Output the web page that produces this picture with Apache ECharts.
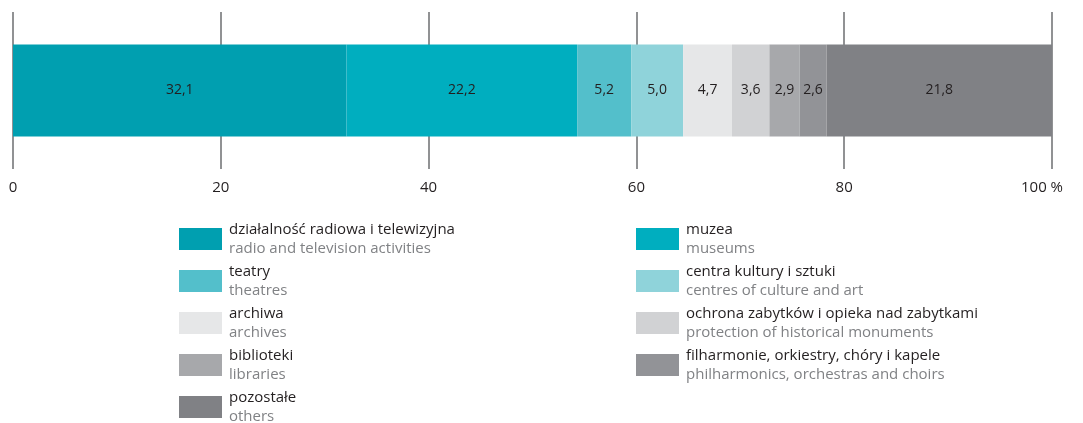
<!DOCTYPE html>
<html>
<head>
<meta charset="utf-8">
<script src="https://cdn.jsdelivr.net/npm/echarts@6/dist/echarts.min.js"></script>
<style>
  html, body { margin: 0; padding: 0; background: #fff; }
  #chart { width: 1083px; height: 423px; }
</style>
</head>
<body>
<div id="chart"></div>
<script>
// udział w wydatkach, %
const namesPl = [
  'działalność radiowa i telewizyjna', 'muzea', 'teatry', 'centra kultury i sztuki',
  'archiwa', 'ochrona zabytków i opieka nad zabytkami', 'biblioteki',
  'filharmonie, orkiestry, chóry i kapele', 'pozostałe'
]
const namesEn = [
  'radio and television activities', 'museums', 'theatres', 'centres of culture and art',
  'archives', 'protection of historical monuments', 'libraries',
  'philharmonics, orchestras and choirs', 'others'
]
const values = [32.1, 22.2, 5.2, 5.0, 4.7, 3.6, 2.9, 2.6, 21.8]
const colors = ['#009fb0', '#00aebf', '#53bfcb', '#8fd3da', '#e6e7e8', '#d1d2d4', '#a7a8ab', '#929397', '#808185']
const leftLegend = [0, 2, 4, 6, 8]
const rightLegend = [1, 3, 5, 7]

const font = 'Open Sans'
const enOf = {}
namesPl.forEach((n, i) => { enOf[n] = namesEn[i] })

const legendBase = (idx, left) => ({
  orient: 'vertical',
  left: left,
  top: 220,
  height: 260,
  padding: 0,
  itemWidth: 43,
  itemHeight: 22,
  itemGap: 4,
  icon: 'rect',
  selectedMode: false,
  data: idx.map(i => namesPl[i]),
  formatter: name => '{pl|' + name + '}\n{en|' + enOf[name] + '}',
  textStyle: {
    fontFamily: font,
    fontSize: 15,
    lineHeight: 19,
    rich: {
      pl: { fontFamily: font, fontSize: 15, color: '#231f20', lineHeight: 19, padding: [0, 0, 0, 2] },
      en: { fontFamily: font, fontSize: 15, color: '#808285', lineHeight: 19, padding: [0, 0, 0, 2] }
    }
  }
})

let option = {
  backgroundColor: '#fff',
  animation: false,
  grid: { left: 13, right: 31, top: 12, height: 157 },
  xAxis: {
    type: 'value',
    min: 0,
    max: 100,
    interval: 20,
    axisLine: { show: false },
    axisTick: { show: false },
    splitLine: { lineStyle: { color: '#6d6e71', width: 1.5 } },
    axisLabel: {
      margin: 11,
      fontFamily: font,
      fontSize: 15,
      color: '#231f20',
      formatter: v => v === 100 ? '{t|100 %}{s|}' : '{t|' + v + '}',
      rich: {
        t: { fontFamily: font, fontSize: 15, color: '#231f20' },
        s: { width: 20 }
      }
    }
  },
  yAxis: {
    type: 'category',
    data: [''],
    show: false
  },
  legend: [legendBase(leftLegend, 179), legendBase(rightLegend, 636)],
  series: namesPl.map((n, i) => ({
    name: n,
    type: 'bar',
    stack: 'total',
    barWidth: 92,
    itemStyle: { color: colors[i] },
    label: {
      show: true,
      position: 'inside',
      fontFamily: font,
      fontSize: 14,
      color: '#231f20',
      formatter: p => p.value.toFixed(1).replace('.', ',')
    },
    data: [values[i]]
  }))
}

let myChart = echarts.init(document.getElementById('chart'))
myChart.setOption(option)
</script>
</body>
</html>
